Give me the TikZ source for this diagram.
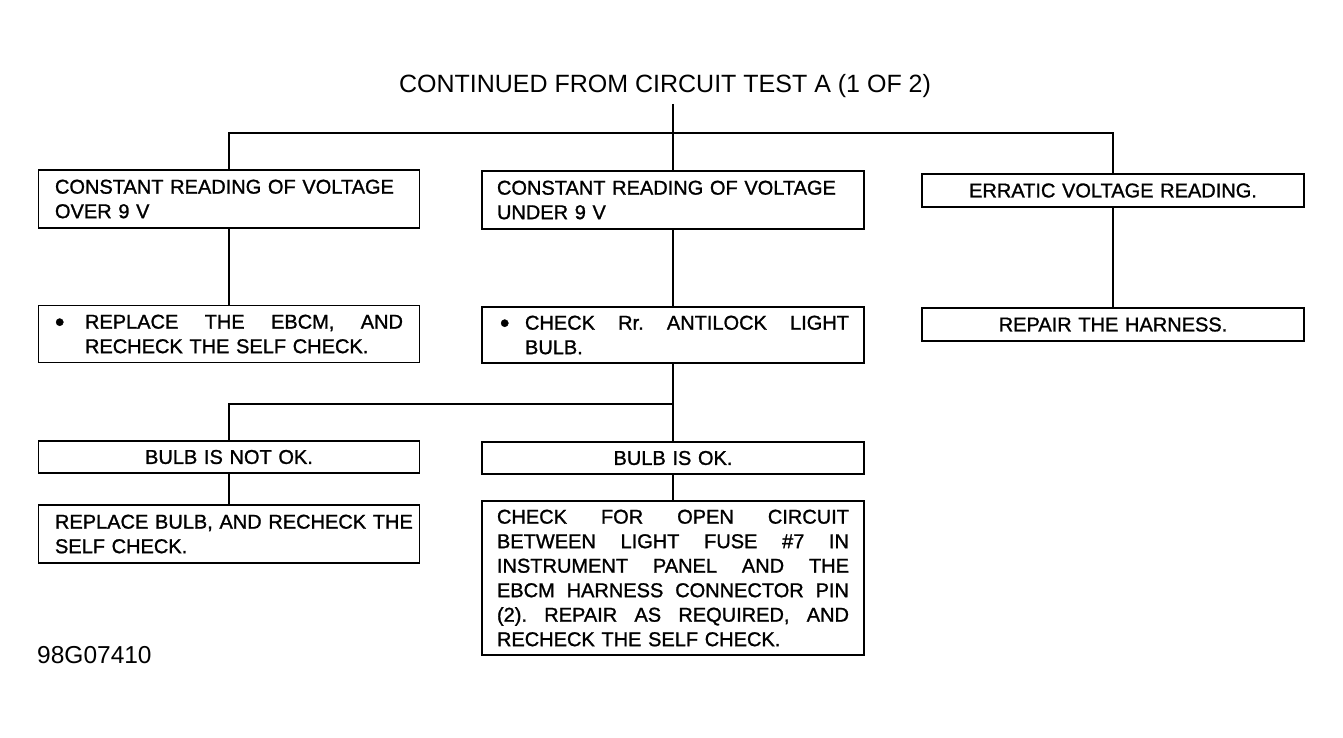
\documentclass[tikz,border=0pt]{standalone}
\usepackage{fontspec}
\setmainfont{Liberation Sans}
\newfontfamily\heavyfont[FakeBold=1.2]{Liberation Sans}
\newcommand{\bxfont}{\heavyfont\fontsize{20}{24.5}\selectfont}
\newcommand{\jline}[2]{\leavevmode\hbox to #1{#2}}
\newcommand{\bigbul}{\raisebox{-2.5pt}{\scalebox{1.35}{\textbullet}}}
\begin{document}
\begin{tikzpicture}[x=1pt,y=-1pt,
  box/.style={draw, line width=1.6pt, rectangle, inner xsep=16.5pt, inner ysep=0pt,
              text width=348pt, font=\bxfont, align=left},
  midbox/.style={box, inner xsep=15pt, text width=352pt},
  vline/.style={line width=1.8pt},
  hline/.style={line width=2.6pt, line join=miter},
  lbl/.style={inner sep=0pt}]
\useasboundingbox (0,0) rectangle (1343,737);

\node[lbl, inner ysep=6pt, font=\fontsize{25}{30}\selectfont] (t) at (665,86) {CONTINUED FROM CIRCUIT TEST A (1 OF 2)};

\node[box, minimum height=58pt] (b1) at (229,199) {\mbox{CONSTANT READING OF VOLTAGE}\\OVER 9 V};
\node[midbox, minimum height=58pt] (b2) at (673,200) {\mbox{CONSTANT READING OF VOLTAGE}\\UNDER 9 V};
\node[midbox, minimum height=33pt, align=center] (b3) at (1113,190.5) {ERRATIC VOLTAGE READING.};

\node[box, minimum height=57pt] (b4) at (229,334) {\jline{30pt}{\bigbul\hfil}\jline{318pt}{REPLACE\hfill THE\hfill EBCM,\hfill AND}\\\hspace*{30pt}\mbox{RECHECK THE SELF CHECK.}};
\node[midbox, minimum height=56pt] (b5) at (673,335) {\hspace*{3pt}\jline{25pt}{\bigbul\hfil}\jline{324pt}{CHECK\hfill Rr.\hfill ANTILOCK\hfill LIGHT}\\\hspace*{28pt}BULB.};
\node[midbox, minimum height=33pt, align=center] (b6) at (1113,324.5) {REPAIR THE HARNESS.};

\node[box, minimum height=32pt, align=center] (b7) at (229,457) {BULB IS NOT OK.};
\node[midbox, minimum height=32pt, align=center] (b8) at (673,458) {BULB IS OK.};

\node[box, minimum height=58pt] (b9) at (229,534) {\mbox{REPLACE BULB, AND RECHECK THE}\\SELF CHECK.};
\node[midbox, minimum height=154pt] (b10) at (673,578) {%
\jline{352pt}{CHECK\hfill FOR\hfill OPEN\hfill CIRCUIT}\\
\jline{352pt}{BETWEEN\hfill LIGHT\hfill FUSE\hfill \#7\hfill IN}\\
\jline{352pt}{INSTRUMENT\hfill PANEL\hfill AND\hfill THE}\\
\jline{352pt}{EBCM\hfill HARNESS\hfill CONNECTOR\hfill PIN}\\
\jline{352pt}{(2).\hfill REPAIR\hfill AS\hfill REQUIRED,\hfill AND}\\
RECHECK THE SELF CHECK.};

\node[lbl, anchor=west, font=\fontsize{24.5}{29}\selectfont] (code) at (37,655) {98G07410};

\coordinate (j1) at (673,133);
\coordinate (j2) at (673,404);

\draw[vline] (b2.north |- t.south) -- (b2.north);
\draw[hline] (b1.north) -- (b1.north |- j1) -- (b3.north |- j1) -- (b3.north);
\draw[vline] (b1.south) -- (b4.north);
\draw[vline] (b2.south) -- (b5.north);
\draw[vline] (b3.south) -- (b6.north);
\draw[vline] (b5.south) -- (b8.north);
\draw[hline] (j2) -- (b7.north |- j2) -- (b7.north);
\draw[vline] (b7.south) -- (b9.north);
\draw[vline] (b8.south) -- (b10.north);
\end{tikzpicture}
\end{document}
